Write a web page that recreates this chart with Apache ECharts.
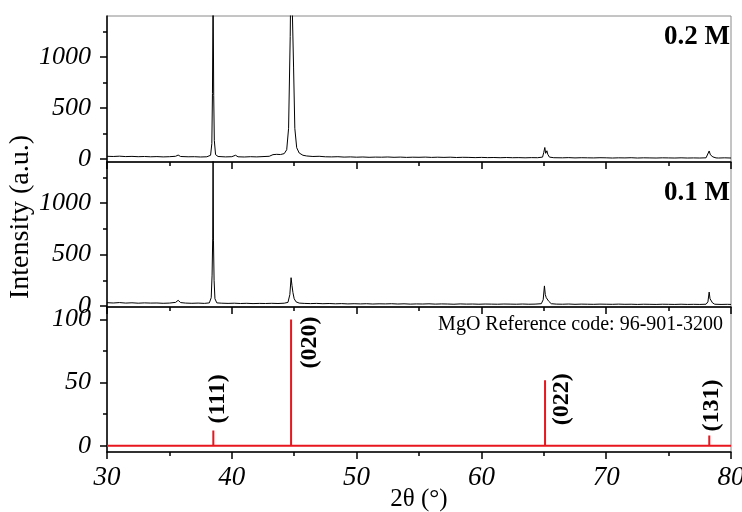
<!DOCTYPE html>
<html>
<head>
<meta charset="utf-8">
<title>XRD</title>
<script src="https://cdn.jsdelivr.net/npm/echarts@6/dist/echarts.min.js"></script>
<style type="text/css">
	* {margin: 0; padding: 0;}
	#chart {width: 742px; height: 512px;}
</style>
</head>
<body>
<div id="chart"></div>
<script type="text/javascript">
// 0.2 M scan, [2theta, counts]
var scan02 = [
	[30,26],[30.5,24],[31,27],[31.5,23],[32,25],[32.5,22],[33,24],[33.5,21],[34,23],[34.5,20],
	[35,22],[35.5,26],[35.7,38],[35.9,24],[36.5,21],[37,22],[37.5,19],[38,21],[38.3,36],[38.4,150],
	[38.45,640],[38.5,1700],[38.55,620],[38.6,180],[38.7,42],[38.9,24],[39.5,20],[40,22],[40.3,36],[40.5,21],
	[41,19],[41.5,22],[42,20],[42.5,23],[43,26],[43.3,42],[43.6,45],[43.9,43],[44.2,52],[44.4,90],
	[44.55,300],[44.68,1200],[44.75,2000],[44.85,2000],[44.95,900],[45.05,300],[45.2,110],[45.4,58],[45.7,36],[46,29],
	[46.5,24],[47,26],[47.5,21],[48,20],[48.5,22],[49,18],[49.5,20],[50,17],[50.5,19],[51,16],
	[51.5,18],[52,17],[52.5,19],[53,16],[53.5,18],[54,15],[54.5,17],[55,16],[55.5,18],[56,15],
	[56.5,17],[57,15],[57.5,17],[58,14],[58.5,16],[59,15],[59.5,13],[60,15],[60.5,13],[61,14],
	[61.5,12],[62,14],[62.5,12],[63,13],[63.5,11],[64,13],[64.5,12],[64.9,18],[65,65],[65.08,112],
	[65.15,55],[65.25,80],[65.32,45],[65.45,18],[65.8,12],[66.5,11],[67,13],[67.5,10],[68,12],[68.5,11],
	[69,10],[69.5,12],[70,11],[70.5,9],[71,11],[71.5,10],[72,12],[72.5,9],[73,11],[73.5,10],
	[74,9],[74.5,11],[75,10],[75.5,9],[76,11],[76.5,9],[77,10],[77.5,9],[78,11],[78.15,30],
	[78.25,78],[78.35,40],[78.45,52],[78.55,20],[78.8,10],[79,9],[79.5,11],[80,9]
];

// 0.1 M scan, [2theta, counts]
var scan01 = [
	[30,32],[30.5,29],[31,33],[31.5,28],[32,31],[32.5,27],[33,30],[33.5,28],[34,29],[34.5,26],
	[35,28],[35.5,35],[35.7,55],[35.9,33],[36.3,28],[36.8,26],[37.3,28],[37.8,25],[38.2,30],[38.35,80],
	[38.42,300],[38.47,660],[38.5,1700],[38.53,640],[38.58,250],[38.65,70],[38.8,30],[39.2,27],[39.7,25],[40.2,27],
	[40.7,24],[41.2,26],[41.7,23],[42.2,25],[42.7,24],[43.2,26],[43.7,24],[44.2,27],[44.5,35],[44.65,110],
	[44.75,275],[44.82,200],[44.9,130],[45,70],[45.15,40],[45.4,28],[45.8,25],[46.3,23],[46.8,25],[47.3,22],
	[47.8,24],[48.3,21],[48.8,23],[49.3,20],[49.8,22],[50.3,20],[50.8,22],[51.3,19],[51.8,21],[52.3,20],
	[52.8,22],[53.3,19],[53.8,21],[54.3,18],[54.8,20],[55.3,19],[55.8,21],[56.3,18],[56.8,20],[57.3,19],
	[57.8,17],[58.3,20],[58.8,18],[59.3,19],[59.8,17],[60.3,19],[60.8,18],[61.3,17],[61.8,19],[62.3,18],
	[62.8,17],[63.3,19],[63.8,17],[64.3,18],[64.8,22],[64.95,60],[65.05,195],[65.12,110],[65.2,80],[65.3,95],
	[65.4,45],[65.6,22],[66,18],[66.5,17],[67,19],[67.5,16],[68,18],[68.5,17],[69,16],[69.5,18],
	[70,17],[70.5,16],[71,18],[71.5,16],[72,17],[72.5,15],[73,17],[73.5,16],[74,15],[74.5,17],
	[75,16],[75.5,15],[76,17],[76.5,15],[77,16],[77.5,15],[78,17],[78.15,40],[78.25,135],[78.32,70],
	[78.42,80],[78.52,30],[78.7,17],[79.2,15],[79.7,16],[80,15]
];

// MgO reference pattern
var refPos = [38.52, 44.75, 65.1, 78.26];
var refInt = [12, 100, 52, 8];
var refHkl = ['(111)', '(020)', '(022)', '(131)'];

// tick values
var xTicks = [30, 40, 50, 60, 70, 80];
var countLabels = [0, 500, 1000];
var countMinor = [250, 750, 1250];
var refLabels = [0, 50, 100];
var refMinor = [25, 75];

var serif = 'Liberation Serif';
var chart = echarts.init(document.getElementById('chart'));

// stick pattern
var sticks = [[30, 0]];
for (var i = 0; i < refPos.length; i++) {
	sticks.push([refPos[i], 0]);
	sticks.push([refPos[i], refInt[i]]);
	sticks.push([refPos[i], 0]);
}
sticks.push([80, 0]);

var grids = [
	{left: 107, right: 11, top: 16, height: 146},
	{left: 107, right: 11, top: 162, height: 145},
	{left: 107, right: 11, top: 307, height: 145}
];
for (var g = 0; g < grids.length; g++) {
	grids[g].show = true;
	grids[g].borderColor = '#8a8a8a';
	grids[g].borderWidth = 1;
	grids[g].backgroundColor = 'transparent';
	grids[g].containLabel = false;
	grids[g].outerBoundsMode = 'none';
}

function plain(v) { return String(v); }

function xAxisFor(gi, showLabel) {
	return {
		type: 'value', gridIndex: gi, min: xTicks[0], max: xTicks[xTicks.length - 1], interval: 10,
		axisLine: {show: true, onZero: false, lineStyle: {color: '#000', width: 1.5}},
		axisTick: {show: true, length: 7, lineStyle: {color: '#000', width: 1.5}},
		minorTick: {show: true, splitNumber: 2, length: 4, lineStyle: {color: '#000', width: 1.5}},
		splitLine: {show: false},
		axisLabel: {show: showLabel, margin: 12, formatter: plain, fontFamily: serif, fontStyle: 'italic', fontSize: 27, color: '#000'},
		name: showLabel ? '2θ (°)' : '',
		nameLocation: 'middle',
		nameGap: 35,
		nameMoveOverlap: false,
		nameTextStyle: {fontFamily: serif, fontSize: 25, color: '#000'}
	};
}

function yAxisFor(gi, min, max, labels) {
	return {
		type: 'value', gridIndex: gi, min: min, max: max,
		axisLine: {show: true, onZero: false, lineStyle: {color: '#000', width: 1.5}},
		axisTick: {show: true, length: 7, customValues: labels, lineStyle: {color: '#000', width: 1.5}},
		splitLine: {show: false},
		axisLabel: {show: true, customValues: labels, formatter: plain, margin: 16, fontFamily: serif, fontStyle: 'italic', fontSize: 26, color: '#000'}
	};
}

function minorAxisFor(gi, min, max, minors) {
	return {
		type: 'value', gridIndex: gi, min: min, max: max, position: 'left',
		axisLine: {show: false},
		axisTick: {show: true, length: 4, customValues: minors, lineStyle: {color: '#000', width: 1.5}},
		splitLine: {show: false},
		axisLabel: {show: false}
	};
}

var option = {
	animation: false,
	backgroundColor: '#fff',
	grid: grids,
	xAxis: [xAxisFor(0, false), xAxisFor(1, false), xAxisFor(2, true)],
	yAxis: [
		yAxisFor(0, -30, 1400, countLabels), minorAxisFor(0, -30, 1400, countMinor),
		yAxisFor(1, -10, 1400, countLabels), minorAxisFor(1, -10, 1400, countMinor),
		yAxisFor(2, -5, 110, refLabels), minorAxisFor(2, -5, 110, refMinor)
	],
	series: [
		{name: '0.2 M', type: 'line', xAxisIndex: 0, yAxisIndex: 0, data: scan02, symbol: 'none', clip: true,
			lineStyle: {color: '#000', width: 1}},
		{name: '0.1 M', type: 'line', xAxisIndex: 1, yAxisIndex: 2, data: scan01, symbol: 'none', clip: true,
			lineStyle: {color: '#000', width: 1}},
		{name: 'MgO', type: 'line', xAxisIndex: 2, yAxisIndex: 4, data: sticks, symbol: 'none', clip: true,
			lineStyle: {color: '#e8161e', width: 2}}
	]
};

chart.setOption(option);

// text placed after layout so hkl labels can follow the sticks
var labelShift = [[4, -7], [19, 49], [17, 45], [3, -4]];
var texts = [
	{type: 'text', x: 730, y: 37, style: {text: '0.2 M', font: 'bold 27px "Liberation Serif"', fill: '#000', align: 'right', verticalAlign: 'middle'}},
	{type: 'text', x: 730, y: 193, style: {text: '0.1 M', font: 'bold 27px "Liberation Serif"', fill: '#000', align: 'right', verticalAlign: 'middle'}},
	{type: 'text', x: 723, y: 325, style: {text: 'MgO Reference code: 96-901-3200', font: '20px "Liberation Serif"', fill: '#000', align: 'right', verticalAlign: 'middle'}},
	{type: 'text', x: 21, y: 217, rotation: Math.PI / 2, style: {text: 'Intensity (a.u.)', font: '28px "Liberation Serif"', fill: '#000', align: 'center', verticalAlign: 'middle'}}
];
for (var k = 0; k < refPos.length; k++) {
	var p = chart.convertToPixel({xAxisIndex: 2, yAxisIndex: 4}, [refPos[k], refInt[k]]);
	texts.push({
		type: 'text', x: p[0] + labelShift[k][0], y: p[1] + labelShift[k][1], rotation: Math.PI / 2,
		style: {text: refHkl[k], font: 'bold 24px "Liberation Serif"', fill: '#000', align: 'left', verticalAlign: 'middle'}
	});
}
chart.setOption({graphic: texts});
</script>
</body>
</html>
